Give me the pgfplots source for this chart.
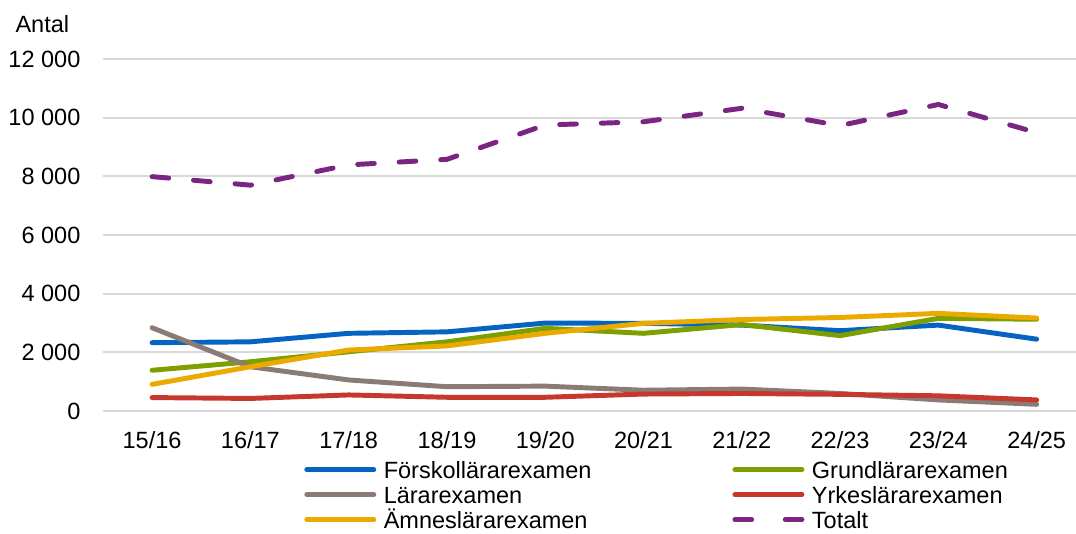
\documentclass[border=0pt]{standalone}
\usepackage{fontspec}
\setmainfont{Liberation Sans}
\usepackage{pgfplots}
\pgfplotsset{compat=1.18}
\definecolor{cblue}{HTML}{0563C1}
\definecolor{cgreen}{HTML}{7E9F00}
\definecolor{cgray}{HTML}{8B7B76}
\definecolor{cred}{HTML}{C8372D}
\definecolor{cyellow}{HTML}{EBAA00}
\definecolor{cpurple}{HTML}{7A2582}
\definecolor{gridc}{HTML}{D9D9D9}
\pgfplotsset{totalleg/.style={legend image code/.code={\draw[##1, dash pattern=on 7.1pt off 14.3pt] (0pt,0pt) -- (28.5pt,0pt);}}}
\begin{document}
\begin{tikzpicture}
\useasboundingbox (-43.8pt,-51.9pt) rectangle (414.0pt,174.9pt);
\begin{axis}[
  at={(0,0)}, anchor=south west,
  scale only axis, width=414pt, height=149.8pt,
  xmin=-0.5, xmax=9.4, ymin=0, ymax=12000,
  xtick={0,...,9},
  xticklabels={15/16,16/17,17/18,18/19,19/20,20/21,21/22,22/23,23/24,24/25},
  ytick={0,2000,4000,6000,8000,10000,12000},
  yticklabels={0,2 000,4 000,6 000,8 000,10 000,12 000},
  scaled y ticks=false,
  axis line style={draw=none}, major tick length=0pt,
  ymajorgrids, grid style={color=gridc, line width=0.8pt},
  tick label style={font=\fontsize{10}{12}\selectfont},
  yticklabel style={inner sep=0pt, xshift=-9.4pt},
  xticklabel style={inner sep=0pt, yshift=-8.5pt},
  clip=false,
  every axis plot/.append style={line width=2.1pt, line cap=round, line join=round},
  legend columns=2,
  legend cell align=left,
  legend image code/.code={\draw[#1] (0pt,0pt) -- (28.5pt,0pt);},
  legend style={at={(axis description cs:0.2065,-0.1386)}, anchor=north west,
    draw=none, fill=none, inner sep=0pt, row sep=2.74pt, column sep=0pt,
    font=\fontsize{10}{12}\selectfont,
    nodes={inner sep=0pt, text height=7.9pt, text depth=0pt},
    /tikz/column 1/.style={column sep=3.2pt},
    /tikz/column 2/.style={column sep=60pt},
    /tikz/column 3/.style={column sep=3.2pt}},
]
\addplot[cblue] coordinates {(0,2330)(1,2360)(2,2650)(3,2700)(4,3000)(5,2990)(6,2930)(7,2740)(8,2930)(9,2450)};
\addlegendentry{Förskollärarexamen}
\addplot[cgreen] coordinates {(0,1390)(1,1680)(2,2020)(3,2360)(4,2820)(5,2650)(6,2950)(7,2570)(8,3160)(9,3130)};
\addlegendentry{Grundlärarexamen}
\addplot[cgray] coordinates {(0,2840)(1,1510)(2,1060)(3,830)(4,850)(5,710)(6,750)(7,600)(8,380)(9,230)};
\addlegendentry{Lärarexamen}
\addplot[cred] coordinates {(0,460)(1,430)(2,550)(3,470)(4,470)(5,580)(6,600)(7,570)(8,520)(9,380)};
\addlegendentry{Yrkeslärarexamen}
\addplot[cyellow] coordinates {(0,910)(1,1510)(2,2080)(3,2220)(4,2650)(5,2990)(6,3120)(7,3190)(8,3330)(9,3170)};
\addlegendentry{Ämneslärarexamen}
\addplot[cpurple, dash pattern=on 7.1pt off 10.6pt, totalleg]
  coordinates {(0,7990)(1,7700)(2,8390)(3,8580)(4,9750)(5,9860)(6,10320)(7,9730)(8,10450)(9,9490)};
\addlegendentry{Totalt}
\end{axis}
\node[anchor=base west, inner sep=0pt, font=\fontsize{10}{12}\selectfont] at (-37.4pt,160.9pt) {Antal};
\end{tikzpicture}
\end{document}
